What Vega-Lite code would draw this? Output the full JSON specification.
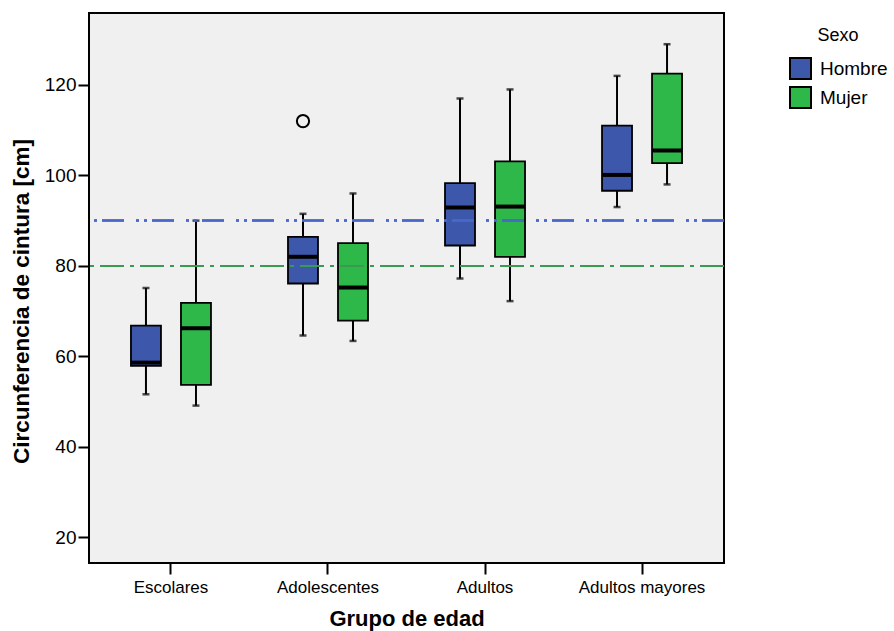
{
  "$schema": "https://vega.github.io/schema/vega-lite/v6.json",
  "autosize": "none",
  "padding": {"left": 89, "top": 13, "right": 170, "bottom": 68},
  "width": 635,
  "height": 550,
  "background": "white",
  "config": {
    "font": "Liberation Sans",
    "view": {"fill": "#f0f0f0", "stroke": "black", "strokeWidth": 2},
    "axis": {"labelColor": "black", "titleColor": "black", "tickColor": "black", "domain": false, "grid": false, "tickWidth": 2}
  },
  "datasets": {
    "boxes": [
      {"grupo": "Escolares", "sexo": "Hombre", "lower": 51.6, "q1": 57.9, "median": 58.6, "q3": 66.8, "upper": 75.1},
      {"grupo": "Escolares", "sexo": "Mujer", "lower": 49.1, "q1": 53.7, "median": 66.2, "q3": 71.8, "upper": 90.0},
      {"grupo": "Adolescentes", "sexo": "Hombre", "lower": 64.6, "q1": 76.1, "median": 82.0, "q3": 86.4, "upper": 91.5},
      {"grupo": "Adolescentes", "sexo": "Mujer", "lower": 63.4, "q1": 67.9, "median": 75.2, "q3": 85.0, "upper": 96.0},
      {"grupo": "Adultos", "sexo": "Hombre", "lower": 77.2, "q1": 84.5, "median": 92.9, "q3": 98.3, "upper": 117.0},
      {"grupo": "Adultos", "sexo": "Mujer", "lower": 72.2, "q1": 82.0, "median": 93.1, "q3": 103.1, "upper": 119.0},
      {"grupo": "Adultos mayores", "sexo": "Hombre", "lower": 93.0, "q1": 96.6, "median": 100.1, "q3": 111.0, "upper": 122.0},
      {"grupo": "Adultos mayores", "sexo": "Mujer", "lower": 98.0, "q1": 102.7, "median": 105.5, "q3": 122.5, "upper": 129.0}
    ],
    "outliers": [
      {"grupo": "Adolescentes", "sexo": "Hombre", "valor": 112.0}
    ]
  },
  "data": {"name": "boxes"},
  "encoding": {
    "x": {
      "field": "grupo", "type": "nominal",
      "sort": ["Escolares", "Adolescentes", "Adultos", "Adultos mayores"],
      "scale": {"paddingInner": 0, "paddingOuter": 0.022},
      "axis": {"title": "Grupo de edad", "labelAngle": 0, "labelFontSize": 17, "labelPadding": 5, "tickSize": 11, "titleFontSize": 22, "titleFontWeight": "bold", "titlePadding": 13}
    },
    "xOffset": {
      "field": "sexo", "type": "nominal",
      "sort": ["Hombre", "Mujer"],
      "scale": {"paddingInner": 0, "paddingOuter": 0.57}
    }
  },
  "layer": [
    {
      "mark": {"type": "rule", "color": "black", "strokeWidth": 2},
      "encoding": {
        "y": {
          "field": "lower", "type": "quantitative",
          "scale": {"domain": [14.3, 135.9], "nice": false, "zero": false},
          "axis": {"title": "Circunferencia de cintura [cm]", "values": [20, 40, 60, 80, 100, 120], "labelFontSize": 19, "labelPadding": 2, "tickSize": 11, "titleFontSize": 22.5, "titleFontWeight": "bold", "titleX": -68, "titleY": 288, "titleAngle": -90, "titleAlign": "center", "titleBaseline": "middle"}
        },
        "y2": {"field": "upper"}
      }
    },
    {
      "mark": {"type": "tick", "color": "black", "size": 7, "thickness": 2.5, "orient": "horizontal"},
      "encoding": {"y": {"field": "lower", "type": "quantitative"}}
    },
    {
      "mark": {"type": "tick", "color": "black", "size": 7, "thickness": 2.5, "orient": "horizontal"},
      "encoding": {"y": {"field": "upper", "type": "quantitative"}}
    },
    {
      "mark": {"type": "bar", "width": 30, "stroke": "black", "strokeWidth": 1.8},
      "encoding": {
        "y": {"field": "q1", "type": "quantitative"},
        "y2": {"field": "q3"},
        "fill": {
          "field": "sexo", "type": "nominal",
          "scale": {"domain": ["Hombre", "Mujer"], "range": ["#3d58aa", "#2eb849"]},
          "legend": {
            "title": "Sexo", "orient": "none", "legendX": 700, "legendY": 14,
            "titleFontSize": 18, "titleFontWeight": "normal", "titleAnchor": "middle", "titlePadding": 12,
            "labelFontSize": 19, "labelColor": "black", "titleColor": "black", "labelOffset": 8,
            "symbolType": "square", "symbolSize": 441, "symbolStrokeColor": "black", "symbolStrokeWidth": 2, "symbolOpacity": 1, "rowPadding": 0
          }
        }
      }
    },
    {
      "mark": {"type": "tick", "color": "black", "size": 30, "thickness": 4, "orient": "horizontal", "opacity": 1},
      "encoding": {"y": {"field": "median", "type": "quantitative"}}
    },
    {
      "data": {"name": "outliers"},
      "mark": {"type": "point", "shape": "circle", "filled": false, "color": "black", "size": 150, "strokeWidth": 2, "opacity": 1},
      "encoding": {"y": {"field": "valor", "type": "quantitative"}}
    },
    {
      "mark": {"type": "rule", "color": "#4a68cc", "strokeWidth": 1.5, "strokeDash": [22, 5, 3, 5, 3, 12]},
      "encoding": {"y": {"datum": 90}, "x": null, "xOffset": null}
    },
    {
      "mark": {"type": "rule", "color": "#3a9a55", "strokeWidth": 1.5, "strokeDash": [24, 6, 4, 6]},
      "encoding": {"y": {"datum": 80}, "x": null, "xOffset": null}
    }
  ]
}
